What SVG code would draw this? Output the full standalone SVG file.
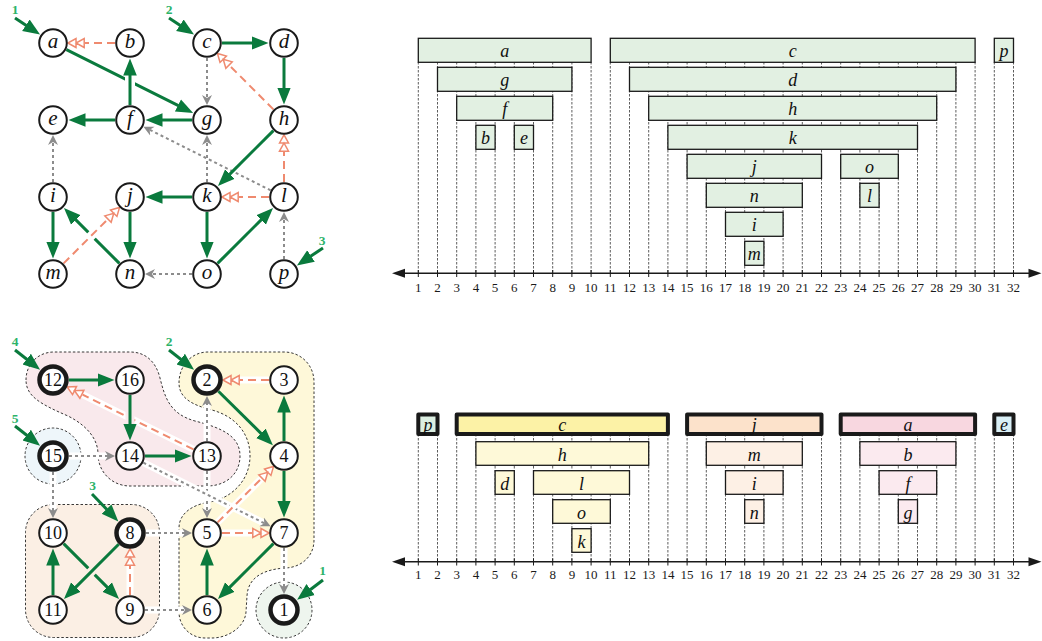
<svg xmlns="http://www.w3.org/2000/svg" width="1042" height="641" viewBox="0 0 1042 641">
<defs>
<marker id="ag" markerUnits="userSpaceOnUse" viewBox="0 -8 18 16" markerWidth="18" markerHeight="16" refX="0.5" refY="0" orient="auto"><path d="M0,-6.8 L17,0 L0,6.8 Z" fill="#0a7a3d"/></marker>
<marker id="as" markerUnits="userSpaceOnUse" viewBox="-1 -6 20 12" markerWidth="20" markerHeight="12" refX="0" refY="0" orient="auto"><path d="M0.8,-4.5 L9,0 L0.8,4.5 Z M9,-4.5 L17.2,0 L9,4.5 Z" fill="#fff" stroke="#ef8a6f" stroke-width="1.5"/></marker>
<marker id="ay" markerUnits="userSpaceOnUse" viewBox="0 -6 11 12" markerWidth="11" markerHeight="12" refX="3" refY="0" orient="auto"><path d="M0,-5 L10,0 L0,5 L3,0 Z" fill="#8c8c8c"/></marker>
</defs>
<style>
.node circle{fill:#fff;stroke:#1a1a1a;stroke-width:2}
.root circle{stroke-width:4.5}
.nl{font-family:"Liberation Serif",serif;font-style:italic;font-size:21px;text-anchor:middle;fill:#111}
.nd{font-family:"Liberation Serif",serif;font-size:18px;text-anchor:middle;fill:#111}
.tree{stroke:#0a7a3d;stroke-width:3;fill:none;marker-end:url(#ag)}
.back{stroke:#ef8a6f;stroke-width:2;stroke-dasharray:8 5;fill:none;marker-end:url(#as)}
.cross{stroke:#8c8c8c;stroke-width:2;stroke-dasharray:3 3;fill:none;marker-end:url(#ay)}
.case{stroke:#fff;stroke-width:7;fill:none}
.sl{font-family:"Liberation Serif",serif;font-weight:bold;font-size:13.5px;fill:#2db36a;text-anchor:middle}
.bar{stroke:#1a1a1a;stroke-width:1.3}
.thick{stroke-width:4;stroke-linejoin:round}
.bl{font-family:"Liberation Serif",serif;font-style:italic;font-size:18px;text-anchor:middle;fill:#111}
.ax{font-family:"Liberation Serif",serif;font-size:13px;text-anchor:middle;fill:#1a1a1a}
.vd{stroke:#333;stroke-width:0.8;stroke-dasharray:2.5 1.5;fill:none}
.tk{stroke:#1a1a1a;stroke-width:1;fill:none}
.axl{stroke:#1a1a1a;stroke-width:1.6;fill:none}
.blob{stroke:#222;stroke-width:0.9;stroke-dasharray:2.5 2}
.g1{fill:#e2f0e2}
.ys{fill:#fcf2a6}.yl{fill:#fef9d8}
.os{fill:#fce2cb}.ol{fill:#fdf0e5}
.ps{fill:#f8d7e0}.pl{fill:#fbeaef}
</style>

<!-- ===== Top graph ===== -->
<g id="top-edges">
<line class="cross" x1="207" y1="58" x2="207" y2="98"/>
<line class="cross" x1="53" y1="182" x2="53" y2="142"/>
<line class="cross" x1="207" y1="182" x2="207" y2="142"/>
<line class="cross" x1="270.6" y1="190.3" x2="149.7" y2="129.8"/>
<line class="cross" x1="192" y1="274" x2="152" y2="274"/>
<line class="cross" x1="284" y1="259" x2="284" y2="219"/>
<line class="tree" x1="66.4" y1="49.7" x2="178.4" y2="105.7"/>
<line class="case" x1="130" y1="105" x2="130" y2="60" style="stroke-width:10"/>
<line class="tree" x1="130" y1="105" x2="130" y2="75"/>
<line class="tree" x1="115" y1="120" x2="85" y2="120"/>
<line class="tree" x1="192" y1="120" x2="162" y2="120"/>
<line class="tree" x1="222" y1="43" x2="252" y2="43"/>
<line class="tree" x1="284" y1="58" x2="284" y2="88"/>
<line class="tree" x1="273.4" y1="130.6" x2="229.6" y2="174.4"/>
<line class="tree" x1="192" y1="197" x2="162" y2="197"/>
<line class="tree" x1="207" y1="212" x2="207" y2="242"/>
<line class="tree" x1="217.6" y1="263.4" x2="261.4" y2="219.6"/>
<line class="tree" x1="130" y1="212" x2="130" y2="242"/>
<line class="tree" x1="119.4" y1="263.4" x2="75.6" y2="219.6"/>
<line class="tree" x1="53" y1="212" x2="53" y2="242"/>
<line class="tree" x1="15" y1="18" x2="26.3" y2="25.5"/>
<line class="tree" x1="169" y1="18" x2="180.3" y2="25.5"/>
<line class="tree" x1="323" y1="248" x2="310.6" y2="256.3"/>
<line class="back" x1="115" y1="43" x2="85" y2="43"/>
<line class="back" x1="273.4" y1="109.4" x2="229.6" y2="65.6"/>
<line class="back" x1="284" y1="182" x2="284" y2="152"/>
<line class="back" x1="269" y1="197" x2="239" y2="197"/>
<line class="case" x1="63.6" y1="263.4" x2="113" y2="214" style="stroke-width:9"/>
<line class="back" x1="63.6" y1="263.4" x2="107.4" y2="219.6"/>
</g>
<g id="top-starts">
<text class="sl" x="15" y="13.6">1</text>
<text class="sl" x="169" y="13.6">2</text>
<text class="sl" x="322" y="244.5">3</text>
</g>
<g id="n-a" class="node"><circle cx="53" cy="43" r="13.8"/><text class="nl" x="53" y="48">a</text></g>
<g id="n-b" class="node"><circle cx="130" cy="43" r="13.8"/><text class="nl" x="130" y="48">b</text></g>
<g id="n-c" class="node"><circle cx="207" cy="43" r="13.8"/><text class="nl" x="207" y="48">c</text></g>
<g id="n-d" class="node"><circle cx="284" cy="43" r="13.8"/><text class="nl" x="284" y="48">d</text></g>
<g id="n-e" class="node"><circle cx="53" cy="120" r="13.8"/><text class="nl" x="53" y="125">e</text></g>
<g id="n-f" class="node"><circle cx="130" cy="120" r="13.8"/><text class="nl" x="130" y="125">f</text></g>
<g id="n-g" class="node"><circle cx="207" cy="120" r="13.8"/><text class="nl" x="207" y="125">g</text></g>
<g id="n-h" class="node"><circle cx="284" cy="120" r="13.8"/><text class="nl" x="284" y="125">h</text></g>
<g id="n-i" class="node"><circle cx="53" cy="197" r="13.8"/><text class="nl" x="53" y="202">i</text></g>
<g id="n-j" class="node"><circle cx="130" cy="197" r="13.8"/><text class="nl" x="130" y="202">j</text></g>
<g id="n-k" class="node"><circle cx="207" cy="197" r="13.8"/><text class="nl" x="207" y="202">k</text></g>
<g id="n-l" class="node"><circle cx="284" cy="197" r="13.8"/><text class="nl" x="284" y="202">l</text></g>
<g id="n-m" class="node"><circle cx="53" cy="274" r="13.8"/><text class="nl" x="53" y="279">m</text></g>
<g id="n-n" class="node"><circle cx="130" cy="274" r="13.8"/><text class="nl" x="130" y="279">n</text></g>
<g id="n-o" class="node"><circle cx="207" cy="274" r="13.8"/><text class="nl" x="207" y="279">o</text></g>
<g id="n-p" class="node"><circle cx="284" cy="274" r="13.8"/><text class="nl" x="284" y="279">p</text></g>

<!-- ===== Bottom graph ===== -->
<g id="components">
<path class="blob" fill="#f9e9ec" d="M26,380 C26,364 38,352 54,352 L130,352 C146,352 156,362 160,378 C165,398 170,414 195,421 C222,428 240,436 240,456 C240,474 226,486 207,486 L130,486 C112,486 98,472 98,454 C98,440 88,426 68,416 C40,404 26,396 26,380 Z"/>
<path class="blob" fill="#fef8d9" d="M179,383 C179,366 191,352 208,352 L284,352 C301,352 314,365 314,382 L314,540 C314,556 302,567 286,568 C266,569 248,576 247,596 L246,612 C245,627 228,638 212,638 L205,638 C190,638 179,626 179,612 L179,528 C179,512 195,504 210,502 C232,498 250,480 250,456 C250,432 234,416 212,410 C192,405 179,398 179,383 Z"/>
<circle class="blob" fill="#eef6fa" cx="53" cy="456" r="28"/>
<rect class="blob" fill="#fbefe4" x="25.5" y="504.5" width="134" height="133" rx="28"/>
<circle class="blob" fill="#eef5ee" cx="284" cy="610" r="28"/>
</g>
<g id="bottom-edges">
<line class="case" x1="69" y1="456" x2="108" y2="456"/>
<line class="cross" x1="69" y1="456" x2="108" y2="456"/>
<line class="case" x1="207" y1="441" x2="207" y2="403"/>
<line class="cross" x1="207" y1="441" x2="207" y2="403"/>
<line class="case" x1="53" y1="472" x2="53" y2="511"/>
<line class="cross" x1="53" y1="472" x2="53" y2="511"/>
<line class="case" x1="207" y1="471" x2="207" y2="511"/>
<line class="cross" x1="207" y1="471" x2="207" y2="511"/>
<line class="case" x1="143.4" y1="462.7" x2="264.3" y2="523.2"/>
<line class="cross" x1="143.4" y1="462.7" x2="264.3" y2="523.2"/>
<line class="case" x1="146" y1="533" x2="185" y2="533"/>
<line class="cross" x1="146" y1="533" x2="185" y2="533"/>
<line class="case" x1="145" y1="610" x2="185" y2="610"/>
<line class="cross" x1="145" y1="610" x2="185" y2="610"/>
<line class="case" x1="284" y1="548" x2="284" y2="587"/>
<line class="cross" x1="284" y1="548" x2="284" y2="587"/>
<line class="case" x1="269" y1="380" x2="240" y2="380"/>
<line class="back" x1="269" y1="380" x2="240" y2="380"/>
<line class="case" x1="193.5" y1="449.4" x2="82.6" y2="394.6"/>
<line class="back" x1="193.5" y1="449.4" x2="82.6" y2="394.6"/>
<line class="case" x1="217.6" y1="522.4" x2="261.4" y2="478.6"/>
<line class="back" x1="217.6" y1="522.4" x2="261.4" y2="478.6"/>
<line class="case" x1="222" y1="533" x2="252" y2="533"/>
<line class="back" x1="222" y1="533" x2="252" y2="533"/>
<line class="case" x1="130" y1="595" x2="130" y2="566"/>
<line class="back" x1="130" y1="595" x2="130" y2="566"/>
<line class="tree" x1="69" y1="380" x2="98" y2="380"/>
<line class="case" x1="130" y1="395" x2="130" y2="436" style="stroke:#f9e9ec;stroke-width:9"/>
<line class="tree" x1="130" y1="395" x2="130" y2="424"/>
<line class="tree" x1="145" y1="456" x2="175" y2="456"/>
<line class="tree" x1="218.4" y1="391.2" x2="261.2" y2="433.6"/>
<line class="tree" x1="284" y1="441" x2="284" y2="412"/>
<line class="tree" x1="284" y1="471" x2="284" y2="501"/>
<line class="tree" x1="273.4" y1="543.6" x2="229.6" y2="587.4"/>
<line class="tree" x1="207" y1="595" x2="207" y2="565"/>
<line class="tree" x1="63.6" y1="543.6" x2="107.4" y2="587.4"/>
<line class="case" x1="118.7" y1="544.3" x2="70" y2="593" style="stroke:#fbefe4;stroke-width:9"/>
<line class="tree" x1="118.7" y1="544.3" x2="75.6" y2="587.4"/>
<line class="tree" x1="53" y1="595" x2="53" y2="565"/>
<line class="tree" x1="15" y1="350" x2="27.1" y2="359.5"/>
<line class="tree" x1="169" y1="350" x2="181.1" y2="359.5"/>
<line class="tree" x1="15" y1="426" x2="27.1" y2="435.5"/>
<line class="tree" x1="92" y1="494" x2="106.9" y2="509.5"/>
<line class="tree" x1="323" y1="580" x2="310.2" y2="589.8"/>
</g>
<g id="bottom-starts">
<text class="sl" x="15" y="345.5">4</text>
<text class="sl" x="169" y="345.5">2</text>
<text class="sl" x="15" y="422.5">5</text>
<text class="sl" x="92.5" y="489.5">3</text>
<text class="sl" x="322.5" y="575">1</text>
</g>
<g id="n-12" class="node root"><circle cx="53" cy="380" r="13.5"/><text class="nd" x="53" y="386">12</text></g>
<g id="n-16" class="node"><circle cx="130" cy="380" r="13.8"/><text class="nd" x="130" y="386">16</text></g>
<g id="n-2" class="node root"><circle cx="207" cy="380" r="13.5"/><text class="nd" x="207" y="386">2</text></g>
<g id="n-3" class="node"><circle cx="284" cy="380" r="13.8"/><text class="nd" x="284" y="386">3</text></g>
<g id="n-15" class="node root"><circle cx="53" cy="456" r="13.5"/><text class="nd" x="53" y="462">15</text></g>
<g id="n-14" class="node"><circle cx="130" cy="456" r="13.8"/><text class="nd" x="130" y="462">14</text></g>
<g id="n-13" class="node"><circle cx="207" cy="456" r="13.8"/><text class="nd" x="207" y="462">13</text></g>
<g id="n-4" class="node"><circle cx="284" cy="456" r="13.8"/><text class="nd" x="284" y="462">4</text></g>
<g id="n-10" class="node"><circle cx="53" cy="533" r="13.8"/><text class="nd" x="53" y="539">10</text></g>
<g id="n-8" class="node root"><circle cx="130" cy="533" r="13.5"/><text class="nd" x="130" y="539">8</text></g>
<g id="n-5" class="node"><circle cx="207" cy="533" r="13.8"/><text class="nd" x="207" y="539">5</text></g>
<g id="n-7" class="node"><circle cx="284" cy="533" r="13.8"/><text class="nd" x="284" y="539">7</text></g>
<g id="n-11" class="node"><circle cx="53" cy="610" r="13.8"/><text class="nd" x="53" y="616">11</text></g>
<g id="n-9" class="node"><circle cx="130" cy="610" r="13.8"/><text class="nd" x="130" y="616">9</text></g>
<g id="n-6" class="node"><circle cx="207" cy="610" r="13.8"/><text class="nd" x="207" y="616">6</text></g>
<g id="n-1" class="node root"><circle cx="284" cy="610" r="13.5"/><text class="nd" x="284" y="616">1</text></g>

<!-- ===== Top timeline ===== -->
<g id="timeline-top">
<path class="vd" d="M418.3 62V273M437.5 62V273M456.7 62V273M475.9 62V273M495.1 62V273M514.3 62V273M533.5 62V273M552.7 62V273M571.9 62V273M591.1 62V273M610.3 62V273M629.5 62V273M648.7 62V273M667.9 62V273M687.1 62V273M706.3 62V273M725.5 62V273M744.7 62V273M763.9 62V273M783.1 62V273M802.3 62V273M821.5 62V273M840.7 62V273M859.9 62V273M879.1 62V273M898.3 62V273M917.5 62V273M936.7 62V273M955.9 62V273M975.1 62V273M994.3 62V273M1013.5 62V273"/>
<g class="g1">
<rect class="bar" x="418.3" y="38.3" width="172.8" height="24"/>
<rect class="bar" x="437.5" y="67.3" width="134.4" height="24"/>
<rect class="bar" x="456.7" y="96.3" width="96" height="24"/>
<rect class="bar" x="475.9" y="125.3" width="19.2" height="24"/>
<rect class="bar" x="514.3" y="125.3" width="19.2" height="24"/>
<rect class="bar" x="610.3" y="38.3" width="364.8" height="24"/>
<rect class="bar" x="629.5" y="67.3" width="326.4" height="24"/>
<rect class="bar" x="648.7" y="96.3" width="288" height="24"/>
<rect class="bar" x="667.9" y="125.3" width="249.6" height="24"/>
<rect class="bar" x="687.1" y="154.3" width="134.4" height="24"/>
<rect class="bar" x="840.7" y="154.3" width="57.6" height="24"/>
<rect class="bar" x="706.3" y="183.3" width="96" height="24"/>
<rect class="bar" x="859.9" y="183.3" width="19.2" height="24"/>
<rect class="bar" x="725.5" y="212.3" width="57.6" height="24"/>
<rect class="bar" x="744.7" y="241.3" width="19.2" height="24"/>
<rect class="bar" x="994.3" y="38.3" width="19.2" height="24"/>
</g>
<text class="bl" x="504.7" y="56.8">a</text>
<text class="bl" x="504.7" y="85.8">g</text>
<text class="bl" x="504.7" y="114.8">f</text>
<text class="bl" x="485.5" y="143.8">b</text>
<text class="bl" x="523.9" y="143.8">e</text>
<text class="bl" x="792.7" y="56.8">c</text>
<text class="bl" x="792.7" y="85.8">d</text>
<text class="bl" x="792.7" y="114.8">h</text>
<text class="bl" x="792.7" y="143.8">k</text>
<text class="bl" x="754.3" y="172.8">j</text>
<text class="bl" x="869.5" y="172.8">o</text>
<text class="bl" x="754.3" y="201.8">n</text>
<text class="bl" x="869.5" y="201.8">l</text>
<text class="bl" x="754.3" y="230.8">i</text>
<text class="bl" x="754.3" y="259.8">m</text>
<text class="bl" x="1003.9" y="56.8">p</text>
<line class="axl" x1="402" y1="273.3" x2="1031" y2="273.3"/>
<path d="M392,273.3 L405,268.8 L405,277.8 Z M1041.5,273.3 L1028.5,268.8 L1028.5,277.8 Z" fill="#1a1a1a"/>
<path class="tk" d="M418.3 270v7M437.5 270v7M456.7 270v7M475.9 270v7M495.1 270v7M514.3 270v7M533.5 270v7M552.7 270v7M571.9 270v7M591.1 270v7M610.3 270v7M629.5 270v7M648.7 270v7M667.9 270v7M687.1 270v7M706.3 270v7M725.5 270v7M744.7 270v7M763.9 270v7M783.1 270v7M802.3 270v7M821.5 270v7M840.7 270v7M859.9 270v7M879.1 270v7M898.3 270v7M917.5 270v7M936.7 270v7M955.9 270v7M975.1 270v7M994.3 270v7M1013.5 270v7"/>
<g class="ax">
<text x="418.3" y="291.5">1</text><text x="437.5" y="291.5">2</text><text x="456.7" y="291.5">3</text><text x="475.9" y="291.5">4</text><text x="495.1" y="291.5">5</text><text x="514.3" y="291.5">6</text><text x="533.5" y="291.5">7</text><text x="552.7" y="291.5">8</text><text x="571.9" y="291.5">9</text><text x="591.1" y="291.5">10</text><text x="610.3" y="291.5">11</text><text x="629.5" y="291.5">12</text><text x="648.7" y="291.5">13</text><text x="667.9" y="291.5">14</text><text x="687.1" y="291.5">15</text><text x="706.3" y="291.5">16</text><text x="725.5" y="291.5">17</text><text x="744.7" y="291.5">18</text><text x="763.9" y="291.5">19</text><text x="783.1" y="291.5">20</text><text x="802.3" y="291.5">21</text><text x="821.5" y="291.5">22</text><text x="840.7" y="291.5">23</text><text x="859.9" y="291.5">24</text><text x="879.1" y="291.5">25</text><text x="898.3" y="291.5">26</text><text x="917.5" y="291.5">27</text><text x="936.7" y="291.5">28</text><text x="955.9" y="291.5">29</text><text x="975.1" y="291.5">30</text><text x="994.3" y="291.5">31</text><text x="1013.5" y="291.5">32</text>
</g>
</g>

<!-- ===== Bottom timeline ===== -->
<g id="timeline-bottom">
<path class="vd" d="M418.3 434V561M437.5 434V561M456.7 434V561M475.9 434V561M495.1 434V561M514.3 434V561M533.5 434V561M552.7 434V561M571.9 434V561M591.1 434V561M610.3 434V561M629.5 434V561M648.7 434V561M667.9 434V561M687.1 434V561M706.3 434V561M725.5 434V561M744.7 434V561M763.9 434V561M783.1 434V561M802.3 434V561M821.5 434V561M840.7 434V561M859.9 434V561M879.1 434V561M898.3 434V561M917.5 434V561M936.7 434V561M955.9 434V561M975.1 434V561M994.3 434V561M1013.5 434V561"/>
<rect class="bar thick" fill="#dcefe2" x="418.3" y="414.5" width="19.2" height="19.5"/>
<rect class="bar thick ys" x="456.7" y="414.5" width="211.2" height="19.5"/>
<rect class="bar yl" x="475.9" y="441.7" width="172.8" height="23.6"/>
<rect class="bar yl" x="495.1" y="470.7" width="19.2" height="23.6"/>
<rect class="bar yl" x="533.5" y="470.7" width="96" height="23.6"/>
<rect class="bar yl" x="552.7" y="499.7" width="57.6" height="23.6"/>
<rect class="bar yl" x="571.9" y="528.7" width="19.2" height="23.6"/>
<rect class="bar thick os" x="687.1" y="414.5" width="134.4" height="19.5"/>
<rect class="bar ol" x="706.3" y="441.7" width="96" height="23.6"/>
<rect class="bar ol" x="725.5" y="470.7" width="57.6" height="23.6"/>
<rect class="bar ol" x="744.7" y="499.7" width="19.2" height="23.6"/>
<rect class="bar thick ps" x="840.7" y="414.5" width="134.4" height="19.5"/>
<rect class="bar pl" x="859.9" y="441.7" width="96" height="23.6"/>
<rect class="bar pl" x="879.1" y="470.7" width="57.6" height="23.6"/>
<rect class="bar pl" x="898.3" y="499.7" width="19.2" height="23.6"/>
<rect class="bar thick" fill="#d9eff6" x="994.3" y="414.5" width="19.2" height="19.5"/>
<text class="bl" x="427.9" y="430.5">p</text>
<text class="bl" x="562.3" y="430.5">c</text>
<text class="bl" x="562.3" y="460.7">h</text>
<text class="bl" x="504.7" y="489.7">d</text>
<text class="bl" x="581.5" y="489.7">l</text>
<text class="bl" x="581.5" y="518.7">o</text>
<text class="bl" x="581.5" y="547.7">k</text>
<text class="bl" x="754.3" y="430.5">j</text>
<text class="bl" x="754.3" y="460.7">m</text>
<text class="bl" x="754.3" y="489.7">i</text>
<text class="bl" x="754.3" y="518.7">n</text>
<text class="bl" x="907.9" y="430.5">a</text>
<text class="bl" x="907.9" y="460.7">b</text>
<text class="bl" x="907.9" y="489.7">f</text>
<text class="bl" x="907.9" y="518.7">g</text>
<text class="bl" x="1003.9" y="430.5">e</text>
<line class="axl" x1="402" y1="561.7" x2="1031" y2="561.7"/>
<path d="M392,561.7 L405,557.2 L405,566.2 Z M1041.5,561.7 L1028.5,557.2 L1028.5,566.2 Z" fill="#1a1a1a"/>
<path class="tk" d="M418.3 558.5v7M437.5 558.5v7M456.7 558.5v7M475.9 558.5v7M495.1 558.5v7M514.3 558.5v7M533.5 558.5v7M552.7 558.5v7M571.9 558.5v7M591.1 558.5v7M610.3 558.5v7M629.5 558.5v7M648.7 558.5v7M667.9 558.5v7M687.1 558.5v7M706.3 558.5v7M725.5 558.5v7M744.7 558.5v7M763.9 558.5v7M783.1 558.5v7M802.3 558.5v7M821.5 558.5v7M840.7 558.5v7M859.9 558.5v7M879.1 558.5v7M898.3 558.5v7M917.5 558.5v7M936.7 558.5v7M955.9 558.5v7M975.1 558.5v7M994.3 558.5v7M1013.5 558.5v7"/>
<g class="ax">
<text x="418.3" y="578.5">1</text><text x="437.5" y="578.5">2</text><text x="456.7" y="578.5">3</text><text x="475.9" y="578.5">4</text><text x="495.1" y="578.5">5</text><text x="514.3" y="578.5">6</text><text x="533.5" y="578.5">7</text><text x="552.7" y="578.5">8</text><text x="571.9" y="578.5">9</text><text x="591.1" y="578.5">10</text><text x="610.3" y="578.5">11</text><text x="629.5" y="578.5">12</text><text x="648.7" y="578.5">13</text><text x="667.9" y="578.5">14</text><text x="687.1" y="578.5">15</text><text x="706.3" y="578.5">16</text><text x="725.5" y="578.5">17</text><text x="744.7" y="578.5">18</text><text x="763.9" y="578.5">19</text><text x="783.1" y="578.5">20</text><text x="802.3" y="578.5">21</text><text x="821.5" y="578.5">22</text><text x="840.7" y="578.5">23</text><text x="859.9" y="578.5">24</text><text x="879.1" y="578.5">25</text><text x="898.3" y="578.5">26</text><text x="917.5" y="578.5">27</text><text x="936.7" y="578.5">28</text><text x="955.9" y="578.5">29</text><text x="975.1" y="578.5">30</text><text x="994.3" y="578.5">31</text><text x="1013.5" y="578.5">32</text>
</g>
</g>
</svg>
